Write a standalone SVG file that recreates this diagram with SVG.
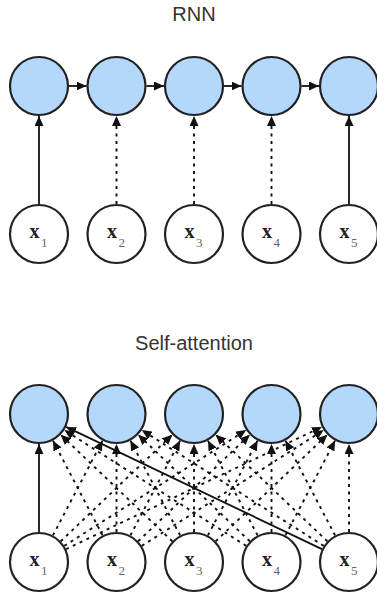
<svg xmlns="http://www.w3.org/2000/svg" width="377" height="594" viewBox="0 0 377 594">
<defs>
<marker id="ah" markerUnits="userSpaceOnUse" markerWidth="10" markerHeight="9" refX="10" refY="4.5" orient="auto">
<path d="M0,0 L10,4.5 L0,9 z" fill="#111"/>
</marker>
<style>
.title{font-family:"Liberation Sans",Arial,sans-serif;font-size:20px;fill:#333;text-anchor:middle}
.h{fill:#b4d8fc;stroke:#222;stroke-width:2.2}
.x{fill:#fff;stroke:#222;stroke-width:2.2}
.lb{font-family:"Liberation Serif","Times New Roman",serif;font-size:20px;font-weight:bold;fill:#222}
.sb{font-family:"Liberation Serif","Times New Roman",serif;font-size:13px;fill:#666}
.s{stroke:#111;stroke-width:1.8;fill:none;marker-end:url(#ah)}
.d{stroke:#111;stroke-width:1.9;fill:none;stroke-dasharray:3 4.5;marker-end:url(#ah)}
</style>
</defs>
<rect width="377" height="594" fill="#fff"/>
<text class="title" x="194" y="21">RNN</text>
<text class="title" x="194" y="350">Self-attention</text>
<g id="connectors">
<line class="s" x1="69" y1="86" x2="86.5" y2="86"/>
<line class="s" x1="146.5" y1="86" x2="164" y2="86"/>
<line class="s" x1="224" y1="86" x2="241.5" y2="86"/>
<line class="s" x1="301.5" y1="86" x2="319" y2="86"/>
<line class="s" x1="39" y1="204" x2="39" y2="116"/>
<line class="d" x1="116.5" y1="204" x2="116.5" y2="116"/>
<line class="d" x1="194" y1="204" x2="194" y2="116"/>
<line class="d" x1="271.5" y1="204" x2="271.5" y2="116"/>
<line class="s" x1="349" y1="204" x2="349" y2="116"/>
<line class="s" x1="39" y1="532" x2="39" y2="444"/>
<line class="d" x1="52.92" y1="535.42" x2="102.58" y2="440.58"/>
<line class="d" x1="60.7" y1="541.28" x2="172.3" y2="434.72"/>
<line class="d" x1="64.31" y1="545.89" x2="246.19" y2="430.11"/>
<line class="d" x1="66.07" y1="549.07" x2="321.93" y2="426.93"/>
<line class="d" x1="102.58" y1="535.42" x2="52.92" y2="440.58"/>
<line class="d" x1="116.5" y1="532" x2="116.5" y2="444"/>
<line class="d" x1="130.42" y1="535.42" x2="180.08" y2="440.58"/>
<line class="d" x1="138.2" y1="541.28" x2="249.8" y2="434.72"/>
<line class="d" x1="141.81" y1="545.89" x2="323.69" y2="430.11"/>
<line class="d" x1="172.3" y1="541.28" x2="60.7" y2="434.72"/>
<line class="d" x1="180.08" y1="535.42" x2="130.42" y2="440.58"/>
<line class="d" x1="194" y1="532" x2="194" y2="444"/>
<line class="d" x1="207.92" y1="535.42" x2="257.58" y2="440.58"/>
<line class="d" x1="215.7" y1="541.28" x2="327.3" y2="434.72"/>
<line class="d" x1="246.19" y1="545.89" x2="64.31" y2="430.11"/>
<line class="d" x1="249.8" y1="541.28" x2="138.2" y2="434.72"/>
<line class="d" x1="257.58" y1="535.42" x2="207.92" y2="440.58"/>
<line class="d" x1="271.5" y1="532" x2="271.5" y2="444"/>
<line class="d" x1="285.42" y1="535.42" x2="335.08" y2="440.58"/>
<line class="s" x1="321.93" y1="549.07" x2="66.07" y2="426.93"/>
<line class="d" x1="323.69" y1="545.89" x2="141.81" y2="430.11"/>
<line class="d" x1="327.3" y1="541.28" x2="215.7" y2="434.72"/>
<line class="d" x1="335.08" y1="535.42" x2="285.42" y2="440.58"/>
<line class="d" x1="349" y1="532" x2="349" y2="444"/>
</g>
<g id="rnn-h1"><circle class="h" cx="39" cy="86" r="29"/></g>
<g id="rnn-h2"><circle class="h" cx="116.5" cy="86" r="29"/></g>
<g id="rnn-h3"><circle class="h" cx="194" cy="86" r="29"/></g>
<g id="rnn-h4"><circle class="h" cx="271.5" cy="86" r="29"/></g>
<g id="rnn-h5"><circle class="h" cx="349" cy="86" r="29"/></g>
<g id="rnn-x1"><circle class="x" cx="39" cy="234" r="29"/><text class="lb" x="29.5" y="238">x</text><text class="sb" x="41" y="246.5">1</text></g>
<g id="rnn-x2"><circle class="x" cx="116.5" cy="234" r="29"/><text class="lb" x="107" y="238">x</text><text class="sb" x="118.5" y="246.5">2</text></g>
<g id="rnn-x3"><circle class="x" cx="194" cy="234" r="29"/><text class="lb" x="184.5" y="238">x</text><text class="sb" x="196" y="246.5">3</text></g>
<g id="rnn-x4"><circle class="x" cx="271.5" cy="234" r="29"/><text class="lb" x="262" y="238">x</text><text class="sb" x="273.5" y="246.5">4</text></g>
<g id="rnn-x5"><circle class="x" cx="349" cy="234" r="29"/><text class="lb" x="339.5" y="238">x</text><text class="sb" x="351" y="246.5">5</text></g>
<g id="sa-h1"><circle class="h" cx="39" cy="414" r="29"/></g>
<g id="sa-h2"><circle class="h" cx="116.5" cy="414" r="29"/></g>
<g id="sa-h3"><circle class="h" cx="194" cy="414" r="29"/></g>
<g id="sa-h4"><circle class="h" cx="271.5" cy="414" r="29"/></g>
<g id="sa-h5"><circle class="h" cx="349" cy="414" r="29"/></g>
<g id="sa-x1"><circle class="x" cx="39" cy="562" r="29"/><text class="lb" x="29.5" y="566">x</text><text class="sb" x="41" y="574.5">1</text></g>
<g id="sa-x2"><circle class="x" cx="116.5" cy="562" r="29"/><text class="lb" x="107" y="566">x</text><text class="sb" x="118.5" y="574.5">2</text></g>
<g id="sa-x3"><circle class="x" cx="194" cy="562" r="29"/><text class="lb" x="184.5" y="566">x</text><text class="sb" x="196" y="574.5">3</text></g>
<g id="sa-x4"><circle class="x" cx="271.5" cy="562" r="29"/><text class="lb" x="262" y="566">x</text><text class="sb" x="273.5" y="574.5">4</text></g>
<g id="sa-x5"><circle class="x" cx="349" cy="562" r="29"/><text class="lb" x="339.5" y="566">x</text><text class="sb" x="351" y="574.5">5</text></g>
</svg>
